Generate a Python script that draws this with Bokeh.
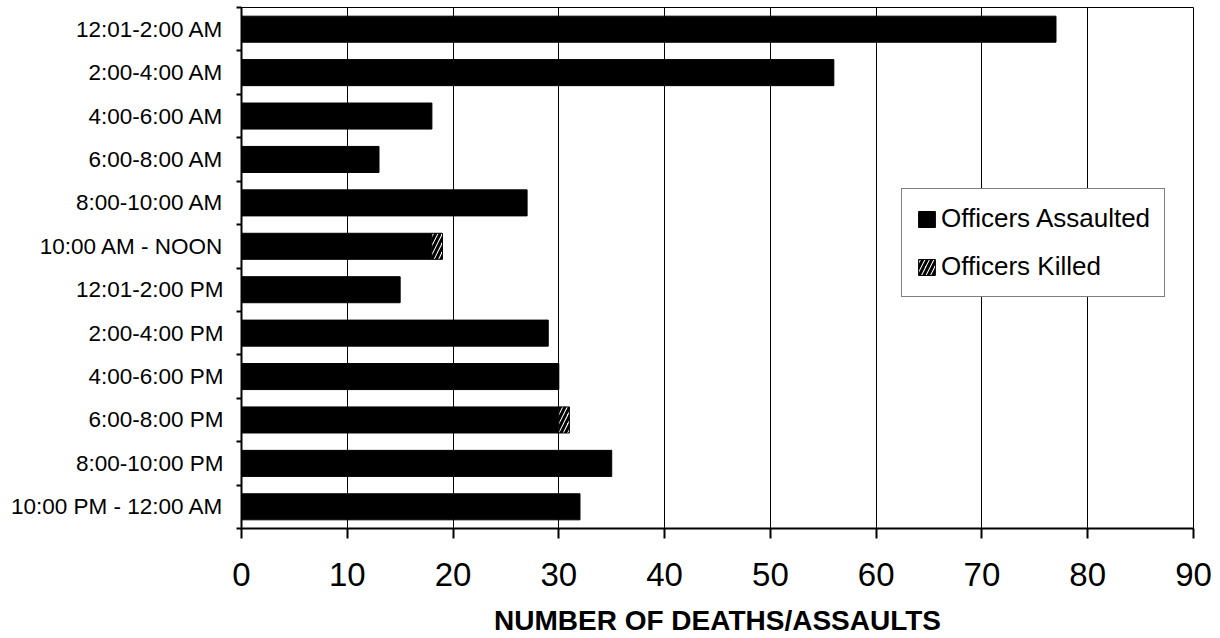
from bokeh.plotting import figure
from bokeh.models import Range1d, FixedTicker, Legend, LegendItem, ColumnDataSource
from bokeh.embed import file_html
from bokeh.resources import INLINE

slots = ["12:01-2:00 AM", "2:00-4:00 AM", "4:00-6:00 AM", "6:00-8:00 AM",
         "8:00-10:00 AM", "10:00 AM - NOON", "12:01-2:00 PM", "2:00-4:00 PM",
         "4:00-6:00 PM", "6:00-8:00 PM", "8:00-10:00 PM", "10:00 PM - 12:00 AM"]
assaulted = [77, 56, 18, 13, 27, 18, 15, 29, 30, 30, 35, 32]
killed = [0, 0, 0, 0, 0, 1, 0, 0, 0, 1, 0, 0]
x_ticks = [0, 10, 20, 30, 40, 50, 60, 70, 80, 90]
x_title = "NUMBER OF DEATHS/ASSAULTS"

n = len(slots)
ypos = [n - 1 - i for i in range(n)]

FONT = "Liberation Sans"

p = figure(width=1220, height=638, output_backend="svg", toolbar_location=None,
           x_range=Range1d(0, 90), y_range=Range1d(-0.5, n - 0.5),
           min_border_left=241, min_border_right=27, min_border_top=7,
           min_border_bottom=109)
p.background_fill_color = "white"
p.border_fill_color = "white"
p.outline_line_color = "black"
p.outline_line_width = 1

src_a = ColumnDataSource(dict(y=ypos, left=[0] * n, right=assaulted))
r_a = p.hbar(y="y", left="left", right="right", height=0.6, source=src_a,
             fill_color="black", line_color="black", line_width=1)

ky = [ypos[i] for i in range(n) if killed[i] > 0]
kl = [assaulted[i] for i in range(n) if killed[i] > 0]
kr = [assaulted[i] + killed[i] for i in range(n) if killed[i] > 0]
src_k = ColumnDataSource(dict(y=ky, left=kl, right=kr))
r_k = p.hbar(y="y", left="left", right="right", height=0.6, source=src_k,
             fill_color="white", line_color="black", line_width=1,
             hatch_pattern="/", hatch_color="black", hatch_weight=3, hatch_scale=9)

# x axis
xa = p.xaxis[0]
xa.ticker = FixedTicker(ticks=x_ticks, minor_ticks=[])
xa.major_tick_out = 10
xa.major_tick_in = 0
xa.minor_tick_out = 0
xa.minor_tick_in = 0
xa.axis_line_width = 2
xa.major_tick_line_width = 2
xa.major_label_text_font = FONT
xa.major_label_text_font_size = "33px"
xa.major_label_text_color = "black"
xa.major_label_standoff = 24
xa.axis_label = x_title
xa.axis_label_text_font = FONT
xa.axis_label_text_font_style = "bold"
xa.axis_label_text_font_size = "28px"
xa.axis_label_text_color = "black"
xa.axis_label_standoff = 16

# y axis
ya = p.yaxis[0]
bounds = [v - 0.5 for v in ypos] + [n - 0.5]
ya.ticker = FixedTicker(ticks=ypos, minor_ticks=bounds)
ya.major_label_overrides = {ypos[i]: slots[i] for i in range(n)}
ya.major_tick_out = 0
ya.major_tick_in = 0
ya.minor_tick_out = 5
ya.minor_tick_in = 0
ya.minor_tick_line_width = 2
ya.minor_tick_line_color = "black"
ya.axis_line_width = 2
ya.major_label_text_font = FONT
ya.major_label_text_font_size = "22.5px"
ya.major_label_text_color = "black"
ya.major_label_standoff = 13

p.xgrid.ticker = FixedTicker(ticks=x_ticks)
p.xgrid.grid_line_color = "black"
p.xgrid.grid_line_width = 1
p.ygrid.grid_line_color = None

legend = Legend(items=[LegendItem(label="Officers Assaulted", renderers=[r_a]),
                       LegendItem(label="Officers Killed", renderers=[r_k])],
                location=(660, 231))
legend.label_text_font = FONT
legend.label_text_font_size = "26px"
legend.label_text_color = "black"
legend.glyph_width = 21
legend.glyph_height = 20
legend.label_height = 28
legend.label_standoff = 4
legend.spacing = 17
legend.padding = 14
legend.margin = 0
legend.border_line_color = "black"
legend.border_line_width = 1
legend.background_fill_alpha = 1
p.add_layout(legend, "center")

open("out.html", "w").write(file_html(p, INLINE))
